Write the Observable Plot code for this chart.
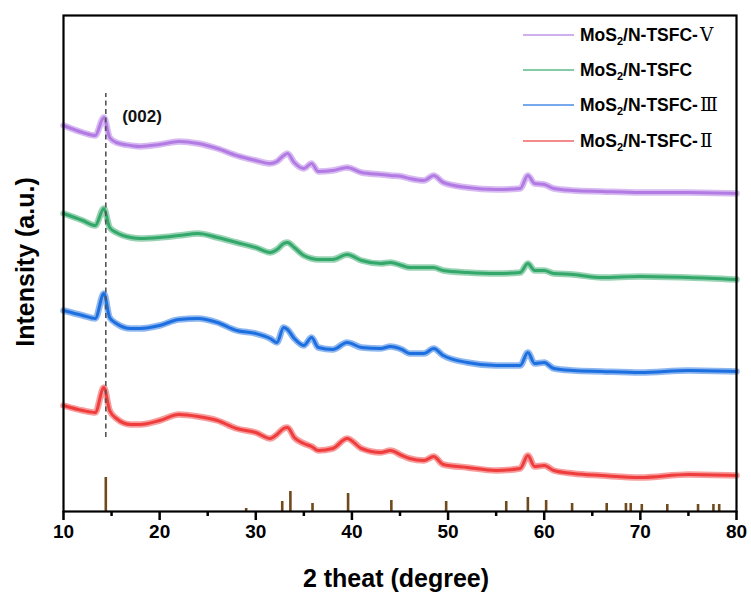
<!DOCTYPE html>
<html>
<head>
<meta charset="utf-8">
<script src="https://cdn.jsdelivr.net/npm/d3@7"></script>
<script src="https://cdn.jsdelivr.net/npm/@observablehq/plot@0.6"></script>
<style>
  html, body { margin: 0; padding: 0; background: #fff; }
  svg { display: block; }
</style>
</head>
<body>
<div id="chart"></div>
<script>
// 2θ sample positions (degree)
const angles = [10, 12, 13.3, 14.2, 14.8, 15.5, 17, 18, 20, 22, 24, 26, 28, 30, 31.5, 32.2, 32.9, 33.3, 34, 35, 35.8, 36.5, 38, 39.5, 41, 43, 44, 45.2, 46, 47.5, 48.5, 49.5, 52, 55, 57.5, 58.3, 59, 60, 61, 63, 66, 70, 75, 80];

// Intensities (a.u., stacked offsets included)
const seriesV = [386, 379, 376, 394, 374, 369, 366, 365, 367, 370, 368, 363, 356, 351, 348, 350, 356, 358, 349, 343, 348, 340, 341, 344, 339, 337, 336, 335, 333, 331, 336, 329, 324, 322, 323, 336, 328, 327, 323, 321, 320, 319, 319, 318];
const seriesTSFC = [298, 291, 286, 303, 284, 279, 274, 273, 274, 276, 278, 274, 269, 264, 259, 262, 268, 269, 264, 256, 253, 252, 252, 257, 251, 248, 249, 246, 244, 244, 244, 241, 239, 238, 239, 248, 241, 241, 238, 237, 234, 235, 234, 232];
const seriesIII = [201, 196, 193, 218, 194, 188, 183, 183, 186, 192, 193, 189, 181, 178, 173, 169, 184, 182, 173, 166, 174, 164, 162, 169, 164, 163, 165, 162, 158, 158, 163, 156, 149, 146, 146, 159, 148, 149, 143, 141, 140, 139, 141, 140];
const seriesII = [106, 101, 99, 124, 101, 93, 87, 87, 91, 97, 95, 91, 83, 79, 73, 77, 83, 84, 74, 68, 65, 61, 63, 73, 63, 59, 61, 56, 53, 51, 55, 47, 44, 41, 43, 56, 45, 46, 41, 38, 36, 34, 37, 36];

// Reference (standard card) stick pattern
const refAngles = [14.4, 29.0, 32.75, 33.6, 35.9, 39.6, 44.1, 49.8, 56.05, 58.3, 60.2, 62.9, 66.5, 68.5, 69.0, 70.15, 72.8, 76.0, 77.6, 78.2];
const refHeights = [34, 3, 10, 20, 8, 18, 11, 10, 10, 14, 11, 8, 8, 8, 8, 7, 7, 7, 7, 7];

// Legend / series labels
const seriesNames = ["MoS2/N-TSFC-Ⅴ", "MoS2/N-TSFC", "MoS2/N-TSFC-Ⅲ", "MoS2/N-TSFC-Ⅱ"];
const seriesColors = ["#b27ae3", "#33a86a", "#1d6fe0", "#ef3c3c"];
const seriesData = [seriesV, seriesTSFC, seriesIII, seriesII];

// Axis ticks
const majorTicks = [10, 20, 30, 40, 50, 60, 70, 80];
const minorTicks = [15, 25, 35, 45, 55, 65, 75];

// Annotation (002)
const peakAngle = 14.4;
const peakLineRange = [74, 418];
const peakLabel = "(002)";
const peakLabelPos = [16.1, 395];

const rows = [];
seriesData.forEach((vals, s) => {
  vals.forEach((v, i) => rows.push({ angle: angles[i], value: v, series: seriesNames[s] }));
});
const sticks = refAngles.map((a, i) => ({ angle: a, h: refHeights[i] }));

const fontSans = "'Liberation Sans', Arial, Helvetica, sans-serif";

const plot = Plot.plot({
  width: 751,
  height: 595,
  marginLeft: 63,
  marginRight: 15,
  marginTop: 15,
  marginBottom: 84,
  style: { fontFamily: fontSans, background: "#fff", overflow: "visible" },
  x: { domain: [10, 80] },
  y: { domain: [0, 496], axis: null },
  color: { domain: seriesNames, range: seriesColors },
  marks: [
    // fuzzy (noise) band
    Plot.line(rows, {
      x: "angle", y: "value", z: "series", stroke: "series",
      strokeWidth: 6.5, strokeOpacity: 0.5, curve: "monotone-x"
    }),
    // core trace
    Plot.line(rows, {
      x: "angle", y: "value", z: "series", stroke: "series",
      strokeWidth: 3, curve: "monotone-x"
    }),
    Plot.ruleX([peakAngle], {
      y1: peakLineRange[0], y2: peakLineRange[1],
      stroke: "#555", strokeWidth: 1.6, strokeDasharray: "5,3.5"
    }),
    Plot.text([peakLabel], {
      x: peakLabelPos[0], y: peakLabelPos[1], text: d => d,
      textAnchor: "start", fontSize: 17, fontWeight: "bold", fill: "#111"
    }),
    Plot.ruleX(sticks, {
      x: "angle", y1: 0, y2: "h", stroke: "#6e4a1c", strokeWidth: 2.6
    }),
    Plot.axisX({
      ticks: minorTicks, tickSize: 5, text: null, label: null, stroke: "#000", strokeWidth: 2.5
    }),
    Plot.axisX({
      ticks: majorTicks, tickSize: 9, tickPadding: 4, strokeWidth: 2.5,
      tickFormat: d => String(d), fontSize: 19, fontWeight: "bold",
      label: null, stroke: "#000", fill: "#000"
    }),
    Plot.frame({ stroke: "#000", strokeWidth: 2.2 })
  ]
});

document.getElementById("chart").appendChild(plot);

const svg = d3.select(plot);

// Axis titles
svg.append("text")
  .attr("x", 396).attr("y", 587)
  .attr("text-anchor", "middle")
  .attr("font-family", fontSans).attr("font-weight", "bold").attr("font-size", 25)
  .attr("fill", "#000")
  .text("2 theat (degree)");

svg.append("text")
  .attr("transform", "translate(34,262) rotate(-90)")
  .attr("text-anchor", "middle")
  .attr("font-family", fontSans).attr("font-weight", "bold").attr("font-size", 25)
  .attr("fill", "#000")
  .text("Intensity (a.u.)");

// Legend
const legendRows = [35, 70, 105, 141];
const lg = svg.append("g").attr("text-anchor", "start");
seriesNames.forEach((name, i) => {
  const y = legendRows[i];
  lg.append("line")
    .attr("x1", 523).attr("x2", 574).attr("y1", y).attr("y2", y)
    .attr("stroke", seriesColors[i]).attr("stroke-opacity", 0.8).attr("stroke-width", 1.5);
  const t = lg.append("text")
    .attr("x", 580).attr("y", y + 6)
    .attr("text-anchor", "start")
    .attr("font-family", fontSans).attr("font-weight", "bold").attr("font-size", 17.5)
    .attr("fill", "#000");
  const m = name.match(/^MoS2(\/N-TSFC)(-?)(.*)$/);
  t.append("tspan").text("MoS");
  t.append("tspan").attr("font-size", 11).attr("dy", 4).text("2");
  t.append("tspan").attr("dy", -4).text(m[1] + m[2]);
  if (m[3]) {
    t.append("tspan")
      .attr("font-family", "'Liberation Serif', 'DejaVu Serif', 'Noto Sans CJK SC', serif")
      .attr("font-weight", "normal").attr("font-size", 18.5)
      .attr("dx", 2)
      .text(m[3]);
  }
});
</script>
</body>
</html>
